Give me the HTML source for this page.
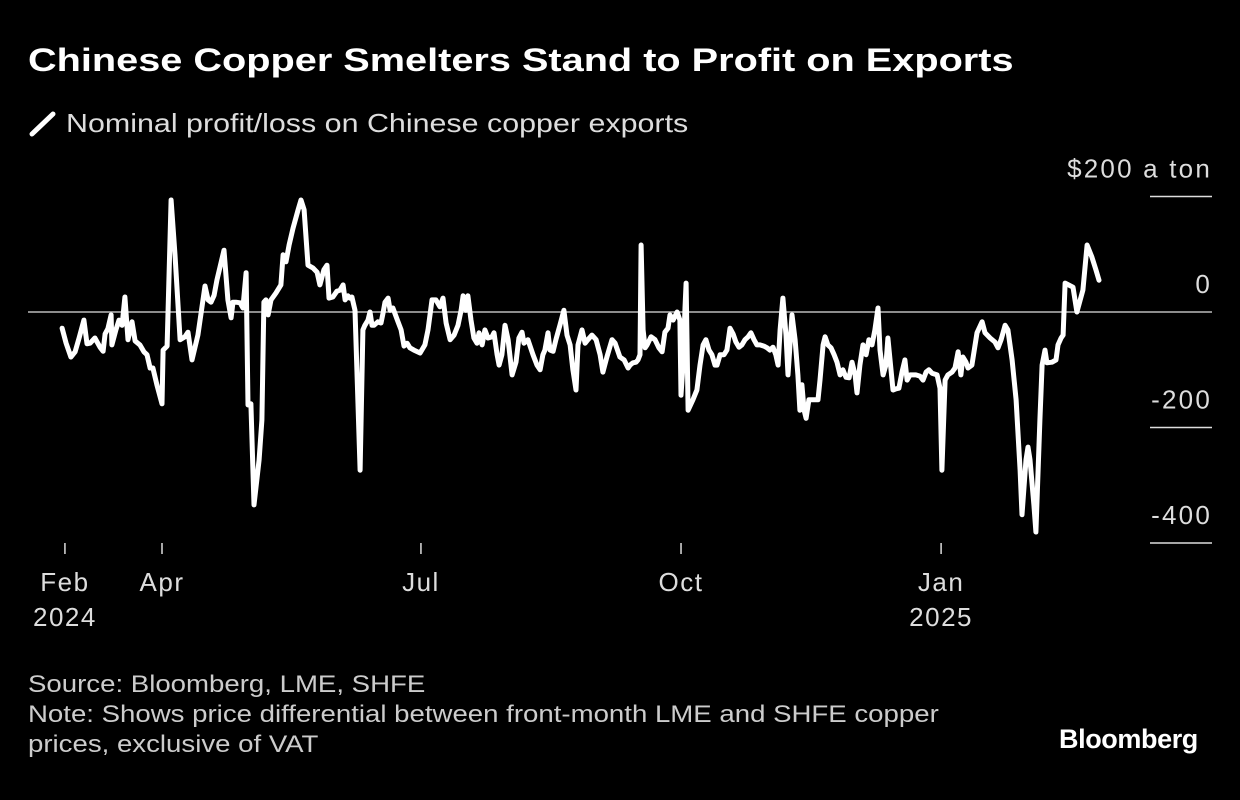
<!DOCTYPE html>
<html><head><meta charset="utf-8">
<style>
html,body{margin:0;padding:0;background:#000;}
body{width:1240px;height:800px;position:relative;overflow:hidden;font-family:"Liberation Sans",sans-serif;color:#fff;}
.t{position:absolute;white-space:nowrap;transform-origin:0 0;}
</style></head>
<body>
<div class="t" style="left:28px;top:42px;font-size:32px;font-weight:bold;transform:scaleX(1.24);">Chinese Copper Smelters Stand to Profit on Exports</div>
<svg style="position:absolute;left:28px;top:110px" width="30" height="28"><line x1="4" y1="24" x2="25" y2="4" stroke="#fff" stroke-width="5" stroke-linecap="round"/></svg>
<div class="t" style="left:66px;top:108px;font-size:26px;color:#ddd;transform:scaleX(1.17);">Nominal profit/loss on Chinese copper exports</div>
<svg id="chart" style="position:absolute;left:0;top:0" width="1240" height="800"></svg>
<div class="t" style="left:28px;top:670px;font-size:24px;color:#ccc;line-height:30px;transform:scaleX(1.15);">Source: Bloomberg, LME, SHFE<br>Note: Shows price differential between front-month LME and SHFE copper<br>prices, exclusive of VAT</div>
<div class="t" style="left:1059px;top:724px;font-size:27px;font-weight:bold;letter-spacing:-0.4px;">Bloomberg</div>
<script>
const days=[-35.3,-33.9,-32.2,-30.7,-29.3,-27.6,-26.5,-25.4,-23.7,-21.9,-20.8,-20.1,-19.1,-18.0,-17.7,-16.3,-15.2,-14.1,-13.1,-12.0,-10.6,-9.5,-7.8,-6.4,-5.3,-4.2,-3.2,-1.8,0,0.4,1.8,3.2,4.6,6.4,8.1,9.2,10.6,12.7,15.2,16.3,17.3,18.4,19.4,21.9,23.3,24.4,25.1,26.1,27.6,28.6,29.7,30.4,31.4,32.5,34.3,35.3,36.0,36.7,37.5,38.5,40.3,42.0,42.8,43.8,44.9,46.3,48.1,49.1,50.2,51.6,53.4,54.8,55.8,57.2,58.3,59.0,60.4,61.8,62.9,64.0,64.7,65.7,66.4,67.1,68.2,70.0,71.0,71.7,72.8,73.5,74.2,74.9,76.3,77.4,78.1,78.8,79.9,80.6,81.6,83.4,84.5,85.5,86.6,87.6,89.0,91.2,92.9,94.0,95.4,96.8,98.2,99.3,100.4,101.8,103.2,104.6,105.7,106.4,107.4,108.1,109.2,110.2,111.3,112.0,113.1,114.1,115.2,116.6,117.3,118.4,119.1,120.1,121.2,122.3,123.7,125.1,126.1,127.2,127.9,129.3,131.1,132.5,133.6,134.6,135.3,136.4,137.1,138.2,139.2,140.6,142.0,143.1,144.2,145.2,146.3,147.0,148.4,149.5,150.5,151.9,153.4,154.8,155.8,157.2,159.0,160.1,161.8,163.3,164.7,165.4,166.4,167.5,168.2,168.9,169.3,170.0,170.7,171.4,172.8,174.2,175.6,176.7,177.7,178.8,179.5,180.6,182.0,183.0,183.4,184.1,184.8,185.2,185.9,187.6,189.0,190.1,191.2,192.2,193.3,194.3,195.4,196.1,197.2,198.6,199.6,200.7,201.8,202.8,203.9,204.9,206.0,207.1,208.1,209.2,210.2,211.3,212.7,213.8,214.8,215.9,216.9,217.7,218.4,219.4,220.5,221.2,221.9,222.6,223.7,224.7,225.4,226.1,226.9,227.6,228.6,229.7,231.8,232.5,233.6,234.3,235.3,236.4,237.5,238.5,239.6,240.6,241.7,242.8,243.8,244.9,245.6,246.6,247.7,248.8,249.8,250.9,251.9,253.0,253.7,254.8,255.8,256.5,257.6,258.3,259.4,260.4,261.5,262.5,263.3,264.3,266.4,267.8,268.9,270.0,271.0,272.1,273.9,274.9,275.6,276.7,277.7,279.2,280.2,281.3,282.3,283.0,284.1,284.8,286.2,288.0,289.8,290.8,292.6,294.3,295.4,296.5,297.9,298.9,300.4,301.8,303.2,303.9,305.3,306.0,306.7,308.1,308.8,310.2,311.0,312.0,312.7,314.5,315.9,316.6,317.7,318.4,319.1,321.9,323.3,325.4,326.9,328.6,330.0,331.1];
const values=[-28,-54,-78,-69,-45,-14,-55,-54,-45,-61,-68,-38,-29,-5,-57,-31,-14,-23,26,-48,-17,-50,-57,-69,-74,-97,-97,-126,-159,-66,-59,194,99,-48,-43,-35,-83,-40,45,21,17,29,55,107,21,-10,17,17,16,7,68,-161,-159,-334,-256,-187,17,21,-5,21,33,47,99,87,116,145,177,194,177,81,76,69,47,73,81,24,26,36,38,47,21,28,24,26,3,-274,-31,-23,-14,0,-23,-23,-17,-19,-2,17,24,3,7,-17,-31,-59,-54,-62,-66,-71,-57,-31,21,21,9,24,-19,-48,-40,-23,3,28,3,28,-14,-45,-54,-36,-57,-31,-45,-43,-36,-74,-92,-74,-23,-48,-109,-87,-45,-35,-54,-48,-74,-92,-100,-74,-66,-36,-66,-68,-48,-23,3,-40,-57,-100,-135,-57,-31,-54,-48,-40,-48,-74,-104,-78,-48,-54,-78,-83,-97,-92,-88,-87,-83,-74,116,-31,-62,-57,-43,-48,-62,-69,-35,-28,-5,-14,0,-14,-144,-92,7,50,-170,-152,-135,-92,-57,-48,-66,-74,-92,-92,-74,-74,-66,-28,-38,-52,-61,-57,-48,-43,-36,-48,-57,-57,-59,-62,-66,-61,-74,-92,-31,24,-40,-109,-57,-5,-48,-109,-170,-126,-170,-184,-152,-152,-152,-118,-57,-43,-57,-62,-74,-87,-109,-100,-113,-114,-87,-109,-140,-92,-57,-74,-48,-57,-31,7,-66,-109,-92,-45,-100,-135,-133,-132,-104,-83,-118,-109,-109,-111,-118,-104,-100,-106,-109,-132,-274,-118,-109,-104,-97,-69,-109,-78,-87,-97,-92,-36,-17,-36,-45,-52,-62,-48,-23,-31,-83,-152,-274,-351,-256,-234,-256,-334,-381,-187,-92,-66,-88,-87,-83,-57,-45,-40,50,43,0,38,116,95,73,55];
const xTickDays=[-34.3,0,91.5,183.4,275.3];
const xTickLabels=[["Feb","2024"],["Apr",""],["Jul",""],["Oct",""],["Jan","2025"]];
const yTicks=[200,0,-200,-400];
const yTickLabels=["$200 a ton","0","-200","-400"];
const NS="http://www.w3.org/2000/svg";
const svg=document.getElementById('chart');
const xS=d=>162+d*2.83;
const yS=v=>312-v*0.5775;
function mk(tag,attrs){const e=document.createElementNS(NS,tag);for(const k in attrs)e.setAttribute(k,attrs[k]);svg.appendChild(e);return e;}
yTicks.forEach((v,i)=>{
  const y=yS(v);
  let l;
  if(v===0){l=mk('line',{x1:28,x2:1212,y1:y,y2:y,stroke:'#bbb','stroke-width':1.5});}
  else{l=mk('line',{x1:1150,x2:1212,y1:y,y2:y,stroke:'#ddd','stroke-width':1.5});}
  
  
  const t=mk('text',{x:1212,y:y-19,'text-anchor':'end','font-size':26,fill:'#ddd','font-family':'Liberation Sans, sans-serif','letter-spacing':2.2});
  t.textContent=yTickLabels[i];
  
  
});
xTickDays.forEach((d,i)=>{
  const x=xS(d);
  const l=mk('line',{x1:x,x2:x,y1:543,y2:554,stroke:'#ddd','stroke-width':1.5});
  
  
  xTickLabels[i].forEach((s,j)=>{
    if(!s)return;
    const t=mk('text',{x:x,y:591+j*35,'text-anchor':'middle','font-size':26,fill:'#ddd','font-family':'Liberation Sans, sans-serif','letter-spacing':1.5});
    t.textContent=s;
    
    
  });
});
const pts=days.map((d,i)=>xS(d).toFixed(1)+','+yS(values[i]).toFixed(1)).join(' ');
const pl=mk('polyline',{points:pts,fill:'none',stroke:'#fff','stroke-width':5,'stroke-linejoin':'round','stroke-linecap':'round'});


</script>
</body></html>
